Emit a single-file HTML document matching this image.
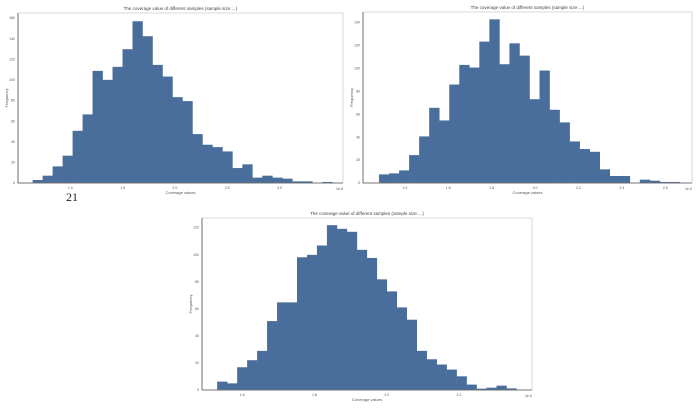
<!DOCTYPE html>
<html><head><meta charset="utf-8">
<style>
html,body{margin:0;padding:0;background:#fff;}
svg{display:block;font-family:"Liberation Sans",sans-serif;}
</style></head>
<body>
<svg id="root" width="700" height="412" viewBox="0 0 700 412">
<text x="72" y="201" font-family="Liberation Serif,serif" font-size="12" fill="#222" text-anchor="middle">21</text>
</svg>
<script>
// ----- chart 1 data -----
const c1Counts = [2.9,7.1,16.1,26.5,50.6,66.5,108.7,100,112.6,129.7,156.8,142.3,114.5,103.2,83.2,79.4,47.4,37.1,34.8,30.6,14.5,18.1,5.2,7.1,5.2,4.2,1.6,1.6,0,1];
const c1BinStart = [0.64];
const c1BinWidth = [0.0955];
const c1XTicks = [1.0,1.5,2.0,2.5,3.0];
const c1YTicks = [0,20,40,60,80,100,120,140,160];
// ----- chart 2 data -----
const c2Counts = [7.5,8.4,11,24.3,40.6,65.5,54.5,85.8,102.9,100.6,123.2,142.6,103.5,121.7,111,73,98,63.8,52.8,36.2,29.6,27.2,11.9,6.1,6.1,0,2.9,2,0.9,0.9];
const c2BinStart = [1.2815];
const c2BinWidth = [0.0462];
const c2XTicks = [1.4,1.6,1.8,2.0,2.2,2.4,2.6];
const c2YTicks = [0,20,40,60,80,100,120,140];
// ----- chart 3 data -----
const c3Counts = [6.2,4.9,16.8,22,28.9,50.9,64.7,64.7,98,99.8,106.7,121.7,119,116.8,103.5,97.5,81.7,72.8,61,51.9,28.9,22.7,18.8,15.1,10.1,4,1,1.7,3.2,1.2];
const c3BinStart = [1.531];
const c3BinWidth = [0.0276];
const c3XTicks = [1.6,1.8,2.0,2.2];
const c3YTicks = [0,20,40,60,80,100,120];

const NS="http://www.w3.org/2000/svg";
const root=document.getElementById('root');
function mk(tag,attrs,parent){const e=document.createElementNS(NS,tag);for(const k in attrs)e.setAttribute(k,attrs[k]);(parent||root).appendChild(e);return e;}

function chart(id,box,xDom,yMax,counts,start,width,xt,yt,title){
  const g=mk('g',{});
  
  
  const xs=v=>box.x0+(v-xDom[0])/(xDom[1]-xDom[0])*(box.x1-box.x0);
  const ys=v=>box.y1-v/yMax*(box.y1-box.y0);
  counts.forEach((c,i)=>{
    if(c<=0)return;
    const xa=xs(start+i*width), xb=xs(start+(i+1)*width);
    const r=mk('rect',{x:xa,y:ys(c),width:xb-xa+0.3,height:ys(0)-ys(c),fill:'#4a6e9c'},g);
    
    
  });
  const fr=mk('rect',{x:box.x0,y:box.y0,width:box.x1-box.x0,height:box.y1-box.y0,fill:'none',stroke:'#cfcfcf','stroke-width':0.8},g);
  
  
  mk('line',{x1:box.x0,y1:box.y0,x2:box.x0,y2:box.y1,stroke:'#555','stroke-width':0.8},g);
  mk('line',{x1:box.x0,y1:box.y1,x2:box.x1,y2:box.y1,stroke:'#555','stroke-width':0.8},g);
  xt.forEach(v=>{
    const t=mk('text',{x:xs(v),y:box.y1+6,'font-size':3.5,fill:'#555','text-anchor':'middle'},g);
    t.textContent=v.toFixed(1);
    
    
  });
  yt.forEach(v=>{
    const t=mk('text',{x:box.x0-3,y:ys(v)+1.2,'font-size':3.5,fill:'#555','text-anchor':'end'},g);
    t.textContent=v;
    
    
  });
  const tt=mk('text',{x:(box.x0+box.x1)/2,y:box.y0-3,'font-size':4.5,fill:'#444','text-anchor':'middle'},g);
  tt.textContent=title;
  
  
  const xl=mk('text',{x:(box.x0+box.x1)/2,y:box.y1+11,'font-size':4,fill:'#555','text-anchor':'middle'},g);
  xl.textContent='Coverage values';
  
  
  const yl=mk('text',{x:0,y:0,'font-size':4,fill:'#555','text-anchor':'middle',transform:`translate(${box.x0-10},${(box.y0+box.y1)/2}) rotate(-90)`},g);
  yl.textContent='Frequency';
  
  
  const off=mk('text',{x:box.x1,y:box.y1+7,'font-size':3.5,fill:'#555','text-anchor':'end'},g);
  off.textContent='1e-5';
  
  
}
chart('histogram-chart-1',{x0:18,x1:343,y0:13,y1:183},[0.5,3.608],164.8,c1Counts,c1BinStart[0],c1BinWidth[0],c1XTicks,c1YTicks,'The coverage value of different samples (sample size:…)');
chart('histogram-chart-2',{x0:363,x1:692,y0:12,y1:183},[1.2077,2.723],149,c2Counts,c2BinStart[0],c2BinWidth[0],c2XTicks,c2YTicks,'The coverage value of different samples (sample size:…)');
chart('histogram-chart-3',{x0:202,x1:532,y0:218,y1:390},[1.489,2.402],127,c3Counts,c3BinStart[0],c3BinWidth[0],c3XTicks,c3YTicks,'The coverage value of different samples (sample size:…)');
</script>
</body></html>
